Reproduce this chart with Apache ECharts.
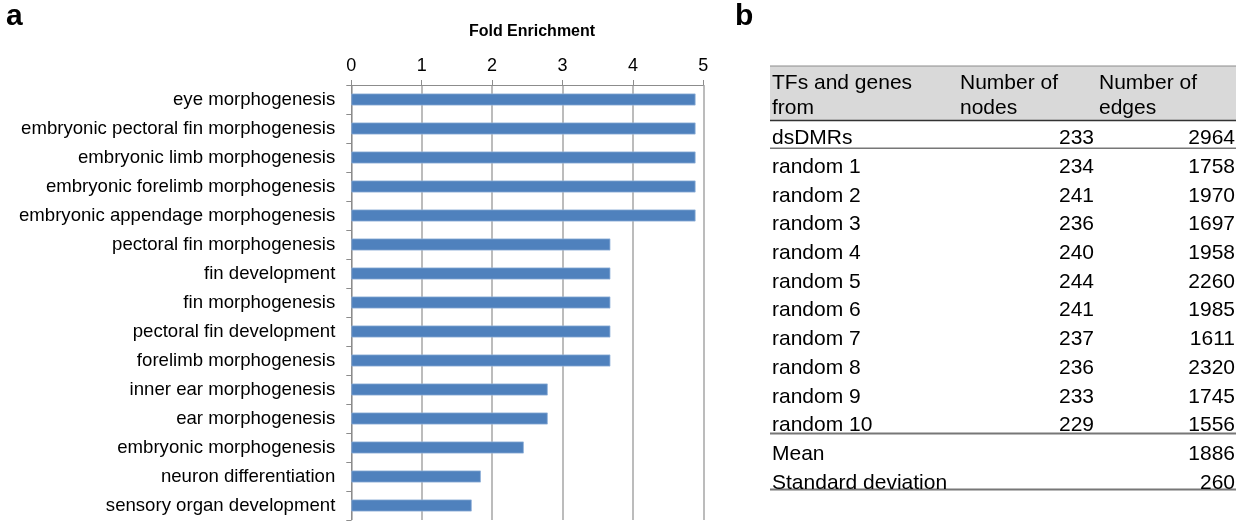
<!DOCTYPE html>
<html>
<head>
<meta charset="utf-8">
<script src="https://cdn.jsdelivr.net/npm/echarts@6/dist/echarts.min.js"></script>
<style>html,body{margin:0;padding:0;background:#fff;}#c{width:1246px;height:521px;}</style>
</head>
<body>
<div id="c"></div>
<script>
// Panel a data
const categories = [
  'eye morphogenesis',
  'embryonic pectoral fin morphogenesis',
  'embryonic limb morphogenesis',
  'embryonic forelimb morphogenesis',
  'embryonic appendage morphogenesis',
  'pectoral fin morphogenesis',
  'fin development',
  'fin morphogenesis',
  'pectoral fin development',
  'forelimb morphogenesis',
  'inner ear morphogenesis',
  'ear morphogenesis',
  'embryonic morphogenesis',
  'neuron differentiation',
  'sensory organ development'
];
const foldEnrichment = [4.89, 4.89, 4.89, 4.89, 4.89, 3.68, 3.68, 3.68, 3.68, 3.68, 2.79, 2.79, 2.45, 1.84, 1.71];
const xTicks = [0, 1, 2, 3, 4, 5];

// Panel b data
const tableHeader = [['TFs and genes', 'from'], ['Number of', 'nodes'], ['Number of', 'edges']];
const rowLabels = ['dsDMRs', 'random 1', 'random 2', 'random 3', 'random 4', 'random 5', 'random 6', 'random 7', 'random 8', 'random 9', 'random 10', 'Mean', 'Standard deviation'];
const nodeCounts = [233, 234, 241, 236, 240, 244, 241, 237, 236, 233, 229, null, null];
const edgeCounts = [2964, 1758, 1970, 1697, 1958, 2260, 1985, 1611, 2320, 1745, 1556, 1886, 260];

const FONT = 'Liberation Sans, Arial, sans-serif';
const chart = echarts.init(document.getElementById('c'), null, {renderer: 'canvas'});

// Table layout
const TL = 770, TR = 1236;
const col1X = 772, col2X = 960, col2R = 1094, col3X = 1099, col3R = 1235;
const hdrY = [83.5, 108.5];
const row0 = 138.5, rowStep = 28.7;
const tfs = 21;
const graphics = [];
graphics.push({type: 'text', left: 6, top: 2, style: {text: 'a', font: 'bold 30px ' + FONT, fill: '#000'}});
graphics.push({type: 'text', left: 735, top: 2, style: {text: 'b', font: 'bold 30px ' + FONT, fill: '#000'}});
graphics.push({type: 'rect', shape: {x: TL, y: 66, width: TR - TL, height: 54.5}, style: {fill: '#d9d9d9'}});
const hline = (y, c, w) => graphics.push({type: 'line', shape: {x1: TL, y1: y, x2: TR, y2: y}, style: {stroke: c, lineWidth: w}});
hline(66, '#8c8c8c', 1);
hline(120.5, '#333', 1.5);
hline(148.3, '#777', 1.5);
hline(433.5, '#777', 2);
hline(489.5, '#777', 2);
const hx = [col1X, col2X, col3X];
tableHeader.forEach((lines, ci) => {
  lines.forEach((t, li) => {
    graphics.push({type: 'text', x: hx[ci], y: hdrY[li], style: {text: t, font: tfs + 'px ' + FONT, fill: '#000', textAlign: 'left', textVerticalAlign: 'middle'}});
  });
});
rowLabels.forEach((lab, i) => {
  const y = row0 + i * rowStep;
  graphics.push({type: 'text', x: col1X, y: y, style: {text: lab, font: tfs + 'px ' + FONT, fill: '#000', textAlign: 'left', textVerticalAlign: 'middle'}});
  if (nodeCounts[i] !== null) graphics.push({type: 'text', x: col2R, y: y, style: {text: String(nodeCounts[i]), font: tfs + 'px ' + FONT, fill: '#000', textAlign: 'right', textVerticalAlign: 'middle'}});
  if (edgeCounts[i] !== null) graphics.push({type: 'text', x: col3R, y: y, style: {text: String(edgeCounts[i]), font: tfs + 'px ' + FONT, fill: '#000', textAlign: 'right', textVerticalAlign: 'middle'}});
});

chart.setOption({
  animation: false,
  backgroundColor: '#fff',
  title: {
    text: 'Fold Enrichment', left: 527, top: 19, textAlign: 'center',
    textStyle: {fontFamily: FONT, fontWeight: 'bold', fontSize: 16, color: '#000'}
  },
  grid: {left: 351.3, right: 1246 - 703.3, top: 85, bottom: 1, containLabel: false},
  xAxis: {
    type: 'value', position: 'top', min: 0, max: 5, interval: 1,
    axisLine: {show: true, lineStyle: {color: '#8c8c8c', width: 1}},
    axisTick: {show: true, inside: false, length: 5, lineStyle: {color: '#8c8c8c'}},
    axisLabel: {fontFamily: FONT, fontSize: 18, color: '#000', margin: 10,
      formatter: v => xTicks.indexOf(v) >= 0 ? String(v) : ''},
    splitLine: {show: true, lineStyle: {color: '#a6a6a6', width: 1.5}}
  },
  yAxis: {
    type: 'category', data: categories, inverse: true,
    axisLine: {show: true, lineStyle: {color: '#8c8c8c', width: 1}},
    axisTick: {show: true, length: 5, alignWithLabel: false, lineStyle: {color: '#8c8c8c'}},
    axisLabel: {fontFamily: FONT, fontSize: 18.6, color: '#000', margin: 16}
  },
  series: [{
    type: 'bar', data: foldEnrichment, barWidth: 12,
    itemStyle: {color: '#4f81bd', borderColor: '#8fb0d8', borderWidth: 0.8}
  }],
  graphic: graphics
});
</script>
</body>
</html>
